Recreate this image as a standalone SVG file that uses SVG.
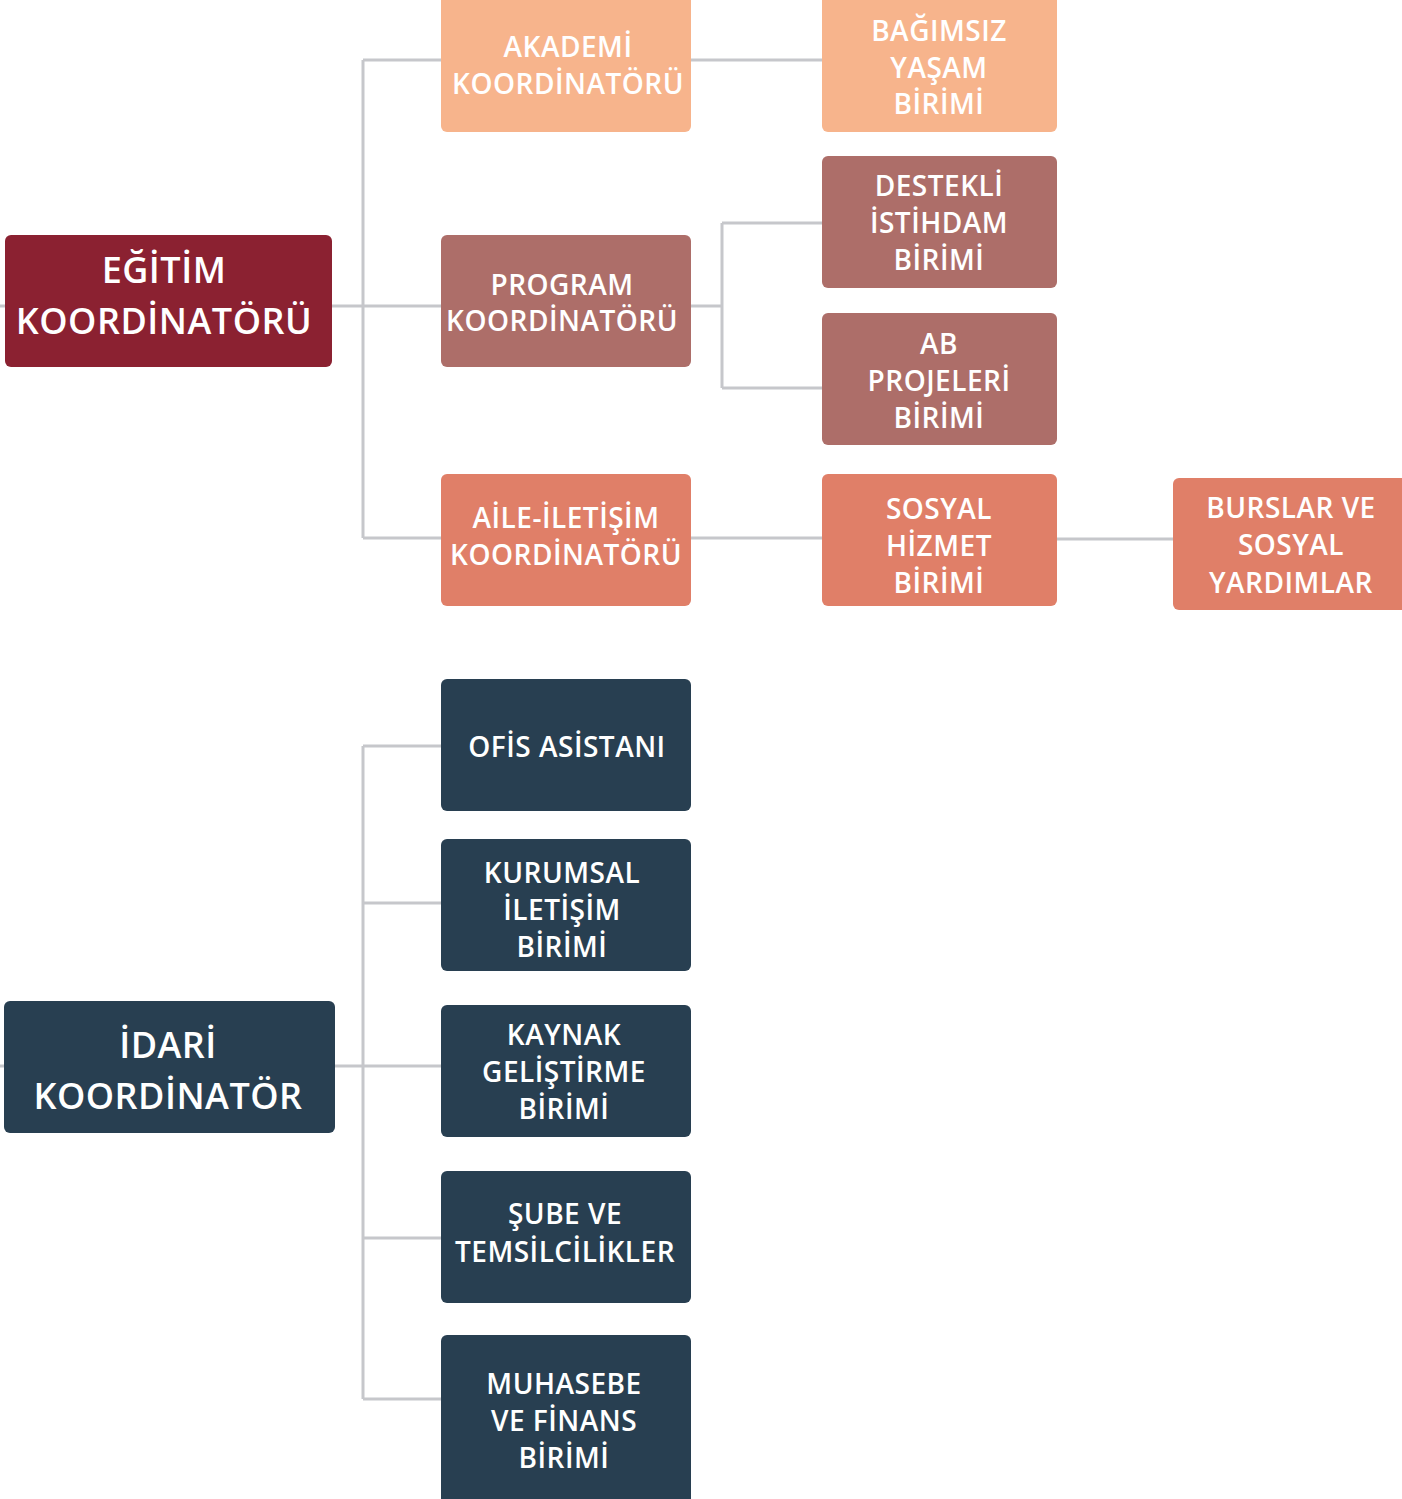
<svg xmlns="http://www.w3.org/2000/svg" width="1402" height="1499" viewBox="0 0 1402 1499">
<style>
.ln{stroke:#c6c7cb;stroke-width:3;fill:none}
.t{font-family:"Open Sans","Noto Sans","Liberation Sans",sans-serif;font-weight:600;fill:#ffffff;text-anchor:middle;font-size:28px;letter-spacing:0.5px}
.tl{font-size:36px}
.c1{fill:#f7b48c}.c2{fill:#ad6e69}.c3{fill:#e07f68}.c4{fill:#283f51}.c0{fill:#8b2131}
</style>
<rect width="1402" height="1499" fill="#ffffff"/>
<g id="connectors">
<path class="ln" d="M0 306H5M332 306H441M363 60V538M363 60H441M363 538H441"/>
<path class="ln" d="M691 60H822M691 306H722M722 223V388M722 223H822M722 388H822M691 538H822M1057 539H1173"/>
<path class="ln" d="M0 1066H4M335 1066H441M363 746V1399M363 746H441M363 903H441M363 1238H441M363 1399H441"/>
</g>
<g id="egitim"><rect class="c0" x="5" y="235" width="327" height="132" rx="6"/><text class="t tl" x="164" y="283">EĞİTİM</text><text class="t tl" x="164" y="334">KOORDİNATÖRÜ</text></g>
<g id="akademi"><rect class="c1" x="441" y="-6" width="250" height="138" rx="6"/><text class="t" x="568" y="57">AKADEMİ</text><text class="t" x="568" y="94">KOORDİNATÖRÜ</text></g>
<g id="bagimsiz"><rect class="c1" x="822" y="-6" width="235" height="138" rx="6"/><text class="t" x="939" y="41">BAĞIMSIZ</text><text class="t" x="939" y="78">YAŞAM</text><text class="t" x="939" y="114">BİRİMİ</text></g>
<g id="program"><rect class="c2" x="441" y="235" width="250" height="132" rx="6"/><text class="t" x="562" y="295">PROGRAM</text><text class="t" x="562" y="331">KOORDİNATÖRÜ</text></g>
<g id="destekli"><rect class="c2" x="822" y="156" width="235" height="132" rx="6"/><text class="t" x="939" y="196">DESTEKLİ</text><text class="t" x="939" y="233">İSTİHDAM</text><text class="t" x="939" y="270">BİRİMİ</text></g>
<g id="ab"><rect class="c2" x="822" y="313" width="235" height="132" rx="6"/><text class="t" x="939" y="354">AB</text><text class="t" x="939" y="391">PROJELERİ</text><text class="t" x="939" y="428">BİRİMİ</text></g>
<g id="aile"><rect class="c3" x="441" y="474" width="250" height="132" rx="6"/><text class="t" x="566" y="528">AİLE-İLETİŞİM</text><text class="t" x="566" y="565">KOORDİNATÖRÜ</text></g>
<g id="sosyal"><rect class="c3" x="822" y="474" width="235" height="132" rx="6"/><text class="t" x="939" y="519">SOSYAL</text><text class="t" x="939" y="556">HİZMET</text><text class="t" x="939" y="593">BİRİMİ</text></g>
<g id="burslar"><rect class="c3" x="1173" y="478" width="240" height="132" rx="6"/><text class="t" x="1291" y="518">BURSLAR VE</text><text class="t" x="1291" y="555">SOSYAL</text><text class="t" x="1291" y="593">YARDIMLAR</text></g>
<g id="idari"><rect class="c4" x="4" y="1001" width="331" height="132" rx="6"/><text class="t tl" x="168" y="1058">İDARİ</text><text class="t tl" x="168" y="1109">KOORDİNATÖR</text></g>
<g id="ofis"><rect class="c4" x="441" y="679" width="250" height="132" rx="6"/><text class="t" x="567" y="757">OFİS ASİSTANI</text></g>
<g id="kurumsal"><rect class="c4" x="441" y="839" width="250" height="132" rx="6"/><text class="t" x="562" y="883">KURUMSAL</text><text class="t" x="562" y="920">İLETİŞİM</text><text class="t" x="562" y="957">BİRİMİ</text></g>
<g id="kaynak"><rect class="c4" x="441" y="1005" width="250" height="132" rx="6"/><text class="t" x="564" y="1045">KAYNAK</text><text class="t" x="564" y="1082">GELİŞTİRME</text><text class="t" x="564" y="1119">BİRİMİ</text></g>
<g id="sube"><rect class="c4" x="441" y="1171" width="250" height="132" rx="6"/><text class="t" x="565" y="1224">ŞUBE VE</text><text class="t" x="565" y="1262">TEMSİLCİLİKLER</text></g>
<g id="muhasebe"><rect class="c4" x="441" y="1335" width="250" height="174" rx="6"/><text class="t" x="564" y="1394">MUHASEBE</text><text class="t" x="564" y="1431">VE FİNANS</text><text class="t" x="564" y="1468">BİRİMİ</text></g>
</svg>
